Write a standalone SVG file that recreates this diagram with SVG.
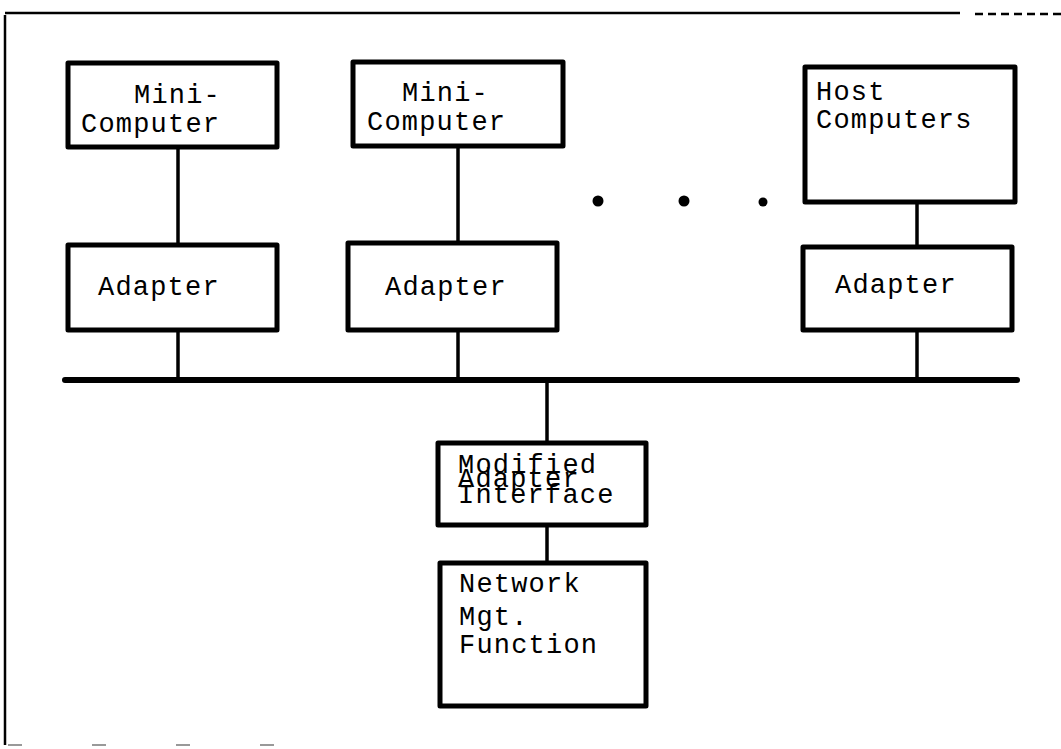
<svg xmlns="http://www.w3.org/2000/svg" width="1061" height="749" viewBox="0 0 1061 749">
<style>
.box{fill:none;stroke:#000;stroke-width:5;stroke-linejoin:round}
.ln{stroke:#000;stroke-width:3.5;fill:none}
.bus{stroke:#000;stroke-width:6;stroke-linecap:round}
.t{font-family:"Liberation Mono","Courier New",monospace;font-size:27px;letter-spacing:1.2px;fill:#000}
.frame{stroke:#000;stroke-width:2.5;fill:none}
</style>
<rect width="1061" height="749" fill="#fff"/>
<g id="frame">
<path class="frame" d="M5,15 L5,745"/>
<path class="frame" d="M5,13 L960,13" stroke-width="3"/>
<path class="frame" d="M975,14 L1061,14" stroke-dasharray="8,5"/>
<path d="M8,745 L330,745" stroke="#999" stroke-width="2" stroke-dasharray="14,70"/>
</g>
<g id="connectors">
<line class="ln" x1="178" y1="147" x2="178" y2="245"/>
<line class="ln" x1="178" y1="330" x2="178" y2="380"/>
<line class="ln" x1="458" y1="146" x2="458" y2="243"/>
<line class="ln" x1="458" y1="330" x2="458" y2="380"/>
<line class="ln" x1="917" y1="202" x2="917" y2="247"/>
<line class="ln" x1="917" y1="330" x2="917" y2="380"/>
<line class="ln" x1="547" y1="380" x2="547" y2="443"/>
<line class="ln" x1="547" y1="525" x2="547" y2="563"/>
<line id="bus" class="bus" x1="65" y1="380" x2="1017" y2="380"/>
</g>
<g id="dots">
<circle cx="598" cy="201" r="5.5"/>
<circle cx="684" cy="201" r="5.5"/>
<circle cx="763" cy="202" r="4.5"/>
</g>
<g id="mini1">
<rect class="box" x="68" y="63" width="209" height="84"/>
<text class="t" x="134" y="103">Mini-</text>
<text class="t" x="81" y="132">Computer</text>
</g>
<g id="mini2">
<rect class="box" x="353" y="62" width="210" height="84"/>
<text class="t" x="402" y="101">Mini-</text>
<text class="t" x="367" y="130">Computer</text>
</g>
<g id="host">
<rect class="box" x="805" y="67" width="210" height="135"/>
<text class="t" x="816" y="100">Host</text>
<text class="t" x="816" y="128">Computers</text>
</g>
<g id="adapter1">
<rect class="box" x="68" y="245" width="209" height="85"/>
<text class="t" x="98" y="295">Adapter</text>
</g>
<g id="adapter2">
<rect class="box" x="348" y="243" width="209" height="87"/>
<text class="t" x="385" y="295">Adapter</text>
</g>
<g id="adapter3">
<rect class="box" x="803" y="247" width="209" height="83"/>
<text class="t" x="835" y="293">Adapter</text>
</g>
<g id="modified">
<rect class="box" x="438" y="443" width="208" height="82"/>
<text class="t" x="458" y="473">Modified</text>
<text class="t" x="458" y="487">Adapter</text>
<text class="t" x="458" y="503">Interface</text>
</g>
<g id="netmgt">
<rect class="box" x="440" y="563" width="206" height="143"/>
<text class="t" x="459" y="592">Network</text>
<text class="t" x="459" y="625">Mgt.</text>
<text class="t" x="459" y="653">Function</text>
</g>
</svg>
